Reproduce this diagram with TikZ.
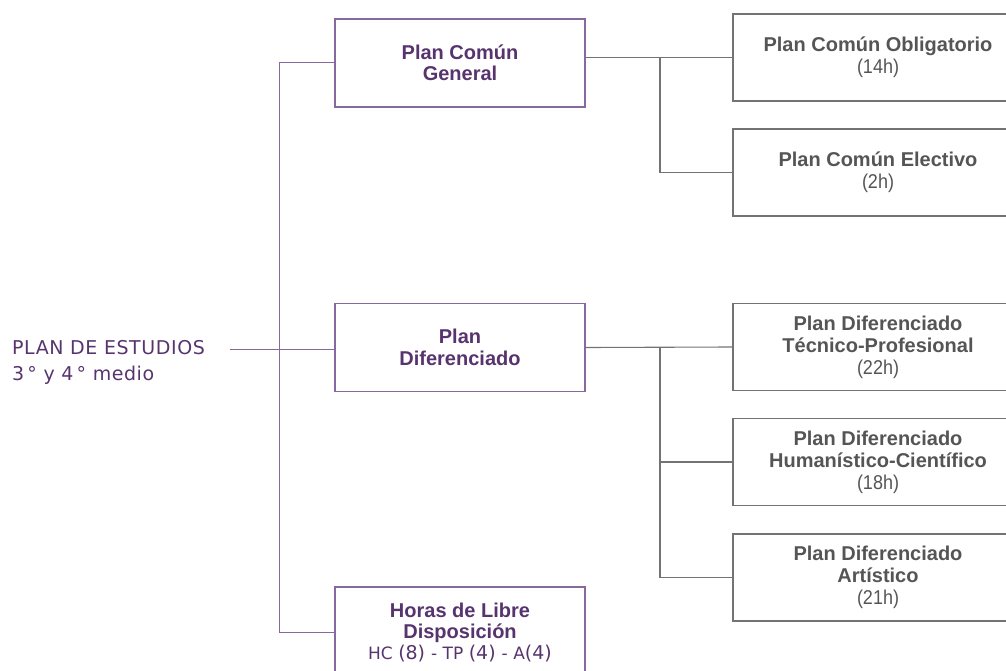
\documentclass[tikz,border=0pt]{standalone}
\usepackage{fontspec}
\setmainfont{Liberation Sans}
\newfontfamily\humfont{DejaVu Sans}
\newfontfamily\rootfont{DejaVu Sans}[LetterSpace=3]
\newfontfamily\narrowfont{Liberation Sans}[FakeStretch=0.9]
\definecolor{pp}{RGB}{88,52,110}
\definecolor{ppline}{RGB}{135,105,160}
\definecolor{gtxt}{RGB}{85,85,85}
\definecolor{gline}{RGB}{115,115,115}
\begin{document}
\begin{tikzpicture}[x=1pt,y=-1pt,
  lbox/.style={draw=ppline, line width=1.1pt, fill=white, minimum width=250pt, minimum height=88pt, align=center, text=pp, font=\fontsize{20}{21.5}\selectfont\bfseries, inner sep=0pt},
  rbox/.style={draw=gline, line width=1.1pt, fill=white, minimum width=290pt, minimum height=87pt, align=center, text=gtxt, font=\fontsize{20}{22}\selectfont\bfseries, inner sep=0pt},
  pline/.style={draw=ppline, line width=1pt},
  gl/.style={draw=gline, line width=1.1pt}]
\useasboundingbox (0,0) rectangle (1006,671);
\clip (0,0) rectangle (1006,671);
% left boxes
\node[lbox] (pcg) at (460,63) {Plan Común\\General};
\node[lbox] (pdif) at (460,347.5) {Plan\\Diferenciado};
\node[lbox, minimum height=90pt] (hld) at (460,632) {Horas de Libre\\Disposición\\[-1pt]{\humfont\mdseries\fontsize{17}{22}\selectfont HC \fontsize{19}{22}\selectfont(8) \fontsize{17}{22}\selectfont- TP \fontsize{19}{22}\selectfont(4) \fontsize{17}{22}\selectfont- A\fontsize{19}{22}\selectfont(4)}};
% right boxes
\node[rbox] (pco) at (878,57.5) {Plan Común Obligatorio\\{\narrowfont\mdseries (14h)}};
\node[rbox] (pce) at (878,172.5) {Plan Común Electivo\\{\narrowfont\mdseries (2h)}};
\node[rbox] (pdtp) at (878,347) {Plan Diferenciado\\Técnico-Profesional\\{\narrowfont\mdseries (22h)}};
\node[rbox] (pdhc) at (878,462) {Plan Diferenciado\\Humanístico-Científico\\{\narrowfont\mdseries (18h)}};
\node[rbox] (pda) at (878,577.5) {Plan Diferenciado\\Artístico\\{\narrowfont\mdseries (21h)}};
% root text
\node[anchor=north west, align=left, text=pp, font=\rootfont\fontsize{19}{26.5}\selectfont, inner sep=0pt] (root) at (12,340) {PLAN DE ESTUDIOS\\3\,°\ y 4\,°\ medio};
\coordinate (rootend) at (230,349);
\coordinate (j1) at (660,0);
% left connectors
\draw[pline] (rootend) -- (rootend -| pdif.west);
\draw[pline] (pcg.west) -- ++(-55,0) |- (hld.west);
% right connectors
\draw[gl] (pco.west -| pcg.east) -- (pco.west);
\draw[gl] (pce.west) -| (j1 |- pco.west);
\draw[gl] (pdif.east) -- (pdtp.west);
\draw[gl] (pdhc.west) -- (pdhc.west -| j1);
\draw[gl] (pda.west) -| (j1 |- pdtp.west);
\end{tikzpicture}
\end{document}
